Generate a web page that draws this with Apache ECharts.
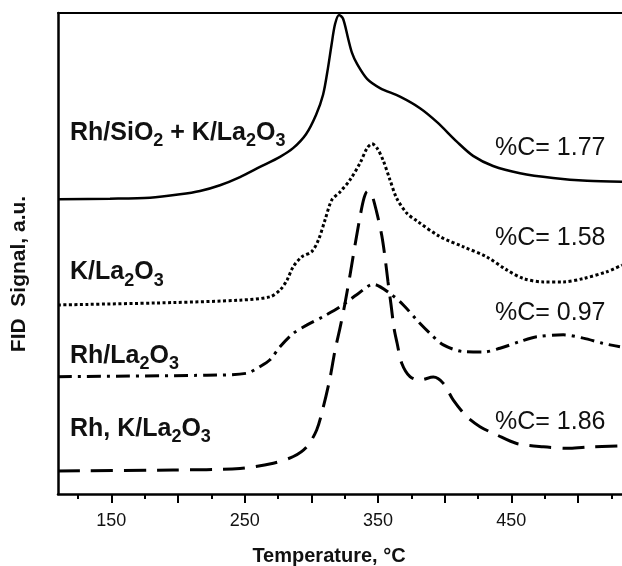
<!DOCTYPE html>
<html>
<head>
<meta charset="utf-8">
<title>FID signal vs temperature</title>
<script src="https://cdn.jsdelivr.net/npm/echarts@6/dist/echarts.min.js"></script>
<style>
  html, body { margin: 0; padding: 0; background: #fff; }
  #main { width: 622px; height: 566px; }
</style>
</head>
<body>
<div id="main"></div>
<script>
// 温度 (°C) 和信号 (a.u.) —— 从图上读出来的
var rhSiO2T = [110, 149, 179, 201.5, 216.5, 231.5, 246.5, 261.5, 276.5, 286.3, 296, 303.5, 308.8, 312.5, 315.1, 317.8, 320.8, 323.8, 327.5, 330.5, 334.3, 341.8, 351.5, 366.5, 381.5, 394.3, 409.3, 421.3, 436.3, 456.5, 481.3, 506.8, 533];
var rhSiO2S = [61.3, 61.4, 61.6, 62.3, 63.0, 64.2, 65.9, 68.0, 70.1, 71.9, 74.8, 78.8, 83.0, 88.6, 93.3, 97.7, 99.6, 98.8, 94.8, 91.7, 89.4, 86.3, 84.4, 82.6, 80.2, 77.3, 73.2, 70.3, 68.2, 66.7, 65.7, 65.1, 64.9];

var kLaT = [110, 196.3, 246.5, 269, 276.5, 281.8, 286.3, 292.8, 300.3, 305.3, 310.3, 315.3, 321.5, 329, 336.5, 341.8, 345.5, 349.3, 353.8, 359, 364, 371.5, 379, 396.5, 414, 431.5, 446.5, 459, 474, 489, 504, 521.5, 533];
var kLaS = [39.3, 39.8, 40.3, 41.0, 42.4, 44.5, 47.2, 49.3, 50.4, 52.8, 57.0, 61.1, 62.8, 65.3, 68.8, 71.9, 72.8, 71.9, 69.4, 65.3, 61.5, 58.4, 56.8, 53.5, 51.4, 49.3, 46.6, 44.8, 44.1, 44.1, 44.8, 46.2, 47.6];

var rhLaT = [110, 221.5, 251.5, 261.5, 269, 276.5, 286.5, 296.5, 309, 321.5, 334, 346.5, 359, 369, 379, 389, 399, 414, 429, 441.5, 456.5, 469, 489, 504, 519, 531.5];
var rhLaS = [24.4, 24.7, 25.1, 26.5, 27.9, 30.6, 33.4, 35.1, 36.9, 38.9, 41.4, 43.6, 41.7, 39.3, 36.2, 33.4, 31.0, 29.6, 29.5, 30.3, 31.7, 32.7, 33.1, 32.4, 31.3, 30.6];

var rhKLaT = [110, 196.3, 246.5, 271.5, 286.5, 296.5, 304, 309, 314, 317.8, 321.5, 325.3, 329, 332.8, 336.5, 339.5, 342, 344.8, 349, 352.8, 355.3, 357.5, 359.8, 362, 364.3, 367.8, 374, 381.5, 391.5, 399, 406.5, 416.5, 426.5, 439, 454, 474, 494, 509, 530];
var rhKLaS = [4.8, 5.0, 5.3, 6.4, 7.8, 9.8, 13.3, 18.1, 24.1, 29.9, 34.5, 39.7, 45.5, 51.8, 57.6, 61.5, 62.9, 62.6, 58.6, 53.8, 49.1, 44.1, 39.3, 34.5, 31.4, 27.2, 24.4, 23.7, 24.3, 23.0, 19.5, 16.1, 14.0, 12.3, 10.5, 9.8, 9.5, 9.8, 10.0];

// 刻度
var majorTicks = [150, 200, 250, 300, 350, 400, 450, 500];
var minorTicks = [125, 175, 225, 275, 325, 375, 425, 475, 525];
var tickLabels = [150, 250, 350, 450];

function zip(t, s) {
    var out = [];
    for (var i = 0; i < t.length; i++) {
        out.push([t[i], s[i]]);
    }
    return out;
}

var FONT = 'Liberation Sans, Arial, sans-serif';
var myChart = echarts.init(document.getElementById('main'));

// 量文字宽度, 用来排下标
var measureCtx = document.createElement('canvas').getContext('2d');
function textWidth(str, size) {
    measureCtx.font = 'bold ' + size + 'px ' + FONT;
    return measureCtx.measureText(str).width;
}

// 带下标的标签: 奇数段是下标
function subLabel(parts, x, y) {
    var children = [];
    var cx = 0;
    for (var i = 0; i < parts.length; i++) {
        var isSub = (i % 2 === 1);
        var size = isSub ? 18 : 25;
        children.push({
            type: 'text',
            x: cx,
            y: isSub ? 8.5 : 0,
            style: {
                text: parts[i],
                fontFamily: FONT,
                fontSize: size,
                fontWeight: 'bold',
                fill: '#111',
                align: 'left',
                verticalAlign: 'middle'
            }
        });
        cx += textWidth(parts[i], size);
    }
    return { type: 'group', x: x, y: y, children: children };
}

function pctLabel(txt, x, y) {
    return {
        type: 'text',
        x: x,
        y: y,
        style: {
            text: txt,
            fontFamily: FONT,
            fontSize: 25,
            fill: '#111',
            align: 'left',
            verticalAlign: 'middle'
        }
    };
}

option = {
    animation: false,
    grid: {
        left: 58,
        right: 0,
        top: 13,
        bottom: 72
    },
    xAxis: [
        {
            type: 'value',
            position: 'bottom',
            min: 110,
            max: 533,
            splitLine: { show: false },
            axisLine: { onZero: false, lineStyle: { color: '#000', width: 2.5 } },
            axisTick: { show: true, customValues: majorTicks, length: 9, lineStyle: { color: '#000', width: 2 } },
            axisLabel: {
                customValues: tickLabels,
                margin: 18,
                fontSize: 18,
                fontFamily: FONT,
                color: '#111'
            }
        },
        {
            // 小刻度
            type: 'value',
            position: 'bottom',
            min: 110,
            max: 533,
            splitLine: { show: false },
            axisLine: { show: false, onZero: false },
            axisTick: { show: true, customValues: minorTicks, length: 5, lineStyle: { color: '#000', width: 2 } },
            axisLabel: { show: false }
        },
        {
            // 上边框
            type: 'value',
            position: 'top',
            min: 110,
            max: 533,
            splitLine: { show: false },
            axisLine: { onZero: false, lineStyle: { color: '#000', width: 2 } },
            axisTick: { show: false },
            axisLabel: { show: false }
        }
    ],
    yAxis: {
        type: 'value',
        min: 0,
        max: 100,
        splitLine: { show: false },
        axisLine: { show: true, onZero: false, lineStyle: { color: '#000', width: 2.5 } },
        axisTick: { show: false },
        axisLabel: { show: false }
    },
    graphic: [
        {
            type: 'text',
            x: 19,
            y: 274,
            rotation: Math.PI / 2,
            style: {
                text: 'FID  Signal, a.u.',
                fontFamily: FONT,
                fontSize: 21,
                fontWeight: 'bold',
                fill: '#111',
                align: 'center',
                verticalAlign: 'middle'
            }
        },
        {
            type: 'text',
            x: 329,
            y: 556,
            style: {
                text: 'Temperature, °C',
                fontFamily: FONT,
                fontSize: 20,
                fontWeight: 'bold',
                fill: '#111',
                align: 'center',
                verticalAlign: 'middle'
            }
        },
        subLabel(['Rh/SiO', '2', ' + K/La', '2', 'O', '3'], 70, 133),
        subLabel(['K/La', '2', 'O', '3'], 70, 272.5),
        subLabel(['Rh/La', '2', 'O', '3'], 70, 356),
        subLabel(['Rh, K/La', '2', 'O', '3'], 70, 429),
        pctLabel('%C= 1.77', 495, 148),
        pctLabel('%C= 1.58', 495, 238),
        pctLabel('%C= 0.97', 495, 313),
        pctLabel('%C= 1.86', 495, 422)
    ],
    series: [
        {
            name: 'Rh/SiO2 + K/La2O3',
            type: 'line',
            smooth: 0.3,
            showSymbol: false,
            data: zip(rhSiO2T, rhSiO2S),
            lineStyle: { color: '#000', width: 2.5, type: 'solid' }
        },
        {
            name: 'K/La2O3',
            type: 'line',
            smooth: 0.3,
            showSymbol: false,
            data: zip(kLaT, kLaS),
            lineStyle: { color: '#000', width: 3, type: [3, 2.5] }
        },
        {
            name: 'Rh/La2O3',
            type: 'line',
            smooth: 0.3,
            showSymbol: false,
            data: zip(rhLaT, rhLaS),
            lineStyle: { color: '#000', width: 3, type: [14, 6, 3, 6] }
        },
        {
            name: 'Rh, K/La2O3',
            type: 'line',
            smooth: 0.3,
            showSymbol: false,
            data: zip(rhKLaT, rhKLaS),
            lineStyle: { color: '#000', width: 3, type: [22, 11] }
        }
    ]
};

myChart.setOption(option);
</script>
</body>
</html>
